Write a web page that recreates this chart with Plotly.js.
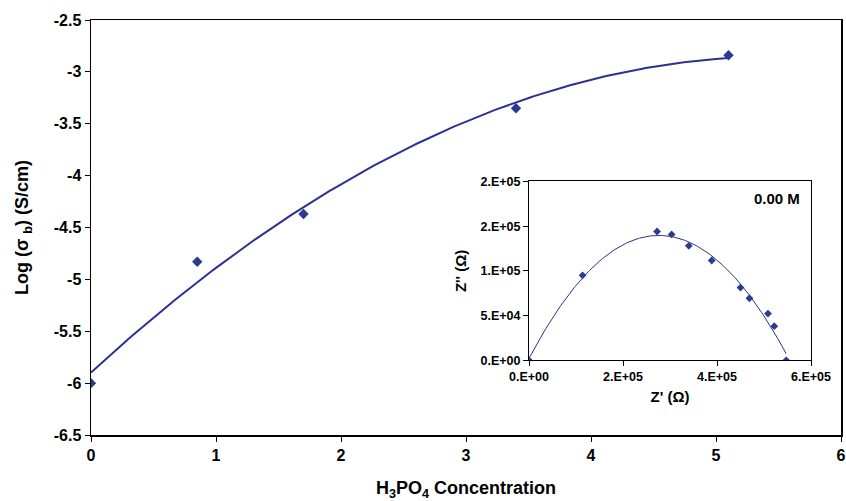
<!DOCTYPE html>
<html>
<head>
<meta charset="utf-8">
<script src="https://cdn.plot.ly/plotly-3.0.1.min.js"></script>
<style>html,body{margin:0;padding:0;background:#fff;}#chart{width:846px;height:501px;}</style>
</head>
<body>
<div id="chart"></div>
<script>
// Main chart data
const concentration = [0, 0.85, 1.7, 3.4, 5.1];
const logSigma = [-6.0, -4.83, -4.37, -3.35, -2.84];

// Inset (Nyquist plot, 0.00 M) data
const zReal = [0, 1.14e5, 2.725e5, 3.035e5, 3.40e5, 3.887e5, 4.50e5, 4.69e5, 5.085e5, 5.218e5, 5.472e5];
const zImag = [0, 9.5e4, 1.44e5, 1.407e5, 1.28e5, 1.116e5, 8.13e4, 6.94e4, 5.22e4, 3.81e4, 0];

// Tick labels
const mainYTicks = [-6.5, -6, -5.5, -5, -4.5, -4, -3.5, -3, -2.5];
const mainYText = ["-6.5", "-6", "-5.5", "-5", "-4.5", "-4", "-3.5", "-3", "-2.5"];
const insetXTicks = [0, 2e5, 4e5, 6e5];
const insetXText = ["0.E+00", "2.E+05", "4.E+05", "6.E+05"];
const insetYTicks = [0, 5e4, 1e5, 1.5e5, 2e5];
const insetYText = ["0.E+00", "5.E+04", "1.E+05", "2.E+05", "2.E+05"];

// Polynomial (order 2) least-squares trendline, like the spreadsheet trendline
function quadFit(xs, ys) {
  const S = [0,0,0,0,0], T = [0,0,0];
  for (let i = 0; i < xs.length; i++) {
    let p = 1;
    for (let k = 0; k < 5; k++) { S[k] += p; if (k < 3) T[k] += p * ys[i]; p *= xs[i]; }
  }
  const A = [[S[0],S[1],S[2],T[0]],[S[1],S[2],S[3],T[1]],[S[2],S[3],S[4],T[2]]];
  for (let c = 0; c < 3; c++) {
    let piv = c;
    for (let r = c+1; r < 3; r++) if (Math.abs(A[r][c]) > Math.abs(A[piv][c])) piv = r;
    [A[c], A[piv]] = [A[piv], A[c]];
    for (let r = 0; r < 3; r++) if (r !== c) {
      const f = A[r][c] / A[c][c];
      for (let k = c; k < 4; k++) A[r][k] -= f * A[c][k];
    }
  }
  return [A[0][3]/A[0][0], A[1][3]/A[1][1], A[2][3]/A[2][2]];
}
function trend(xs, ys, n) {
  const c = quadFit(xs, ys);
  const x0 = Math.min(...xs), x1 = Math.max(...xs);
  const tx = [], ty = [];
  for (let i = 0; i <= n; i++) {
    const x = x0 + (x1 - x0) * i / n;
    tx.push(x); ty.push(c[0] + c[1]*x + c[2]*x*x);
  }
  return {x: tx, y: ty};
}

const blue = '#2b3a92';
const lineBlue = '#2e3192';
const mainTrend = trend(concentration, logSigma, 200);
const insetTrend = trend(zReal, zImag, 200);
const F = 'Liberation Sans, Arial, sans-serif';

const data = [
  {x: mainTrend.x, y: mainTrend.y, mode: 'lines', line: {color: lineBlue, width: 2}, hoverinfo: 'skip', xaxis: 'x', yaxis: 'y'},
  {x: concentration, y: logSigma, mode: 'markers', marker: {symbol: 'diamond', size: 8, color: blue}, xaxis: 'x', yaxis: 'y'},
  {x: insetTrend.x, y: insetTrend.y, mode: 'lines', line: {color: lineBlue, width: 1}, hoverinfo: 'skip', xaxis: 'x2', yaxis: 'y2'},
  {x: zReal, y: zImag, mode: 'markers', marker: {symbol: 'diamond', size: 6, color: blue}, xaxis: 'x2', yaxis: 'y2'}
];

const layout = {
  width: 846, height: 501,
  margin: {l: 91, r: 5, t: 20, b: 66},
  paper_bgcolor: '#fff', plot_bgcolor: '#fff',
  showlegend: false,
  font: {family: F, color: '#000'},
  xaxis: {
    range: [0, 6], dtick: 1, tick0: 0, showgrid: false, zeroline: false,
    showline: true, linecolor: '#000', linewidth: 1.5, mirror: true,
    ticks: 'outside', ticklen: 5, tickcolor: '#000',
    tickfont: {family: F, size: 16, weight: 'bold'},
    title: {text: 'H<sub>3</sub>PO<sub>4</sub> Concentration', font: {family: F, size: 18, weight: 'bold'}, standoff: 24}
  },
  yaxis: {
    range: [-6.5, -2.5], tickvals: mainYTicks, ticktext: mainYText, showgrid: false, zeroline: false,
    showline: true, linecolor: '#000', linewidth: 1.5, mirror: true,
    ticks: 'outside', ticklen: 5, tickcolor: '#000',
    tickfont: {family: F, size: 16, weight: 'bold'},
    title: {text: 'Log (σ <sub>b</sub>) (S/cm)', font: {family: F, size: 18, weight: 'bold'}, standoff: 20}
  },
  xaxis2: {
    domain: [0.584, 0.96], anchor: 'y2', range: [0, 6e5],
    tickvals: insetXTicks, ticktext: insetXText, showgrid: false, zeroline: false,
    showline: true, linecolor: '#000', linewidth: 1, mirror: true,
    ticks: 'outside', ticklen: 5, tickcolor: '#000',
    tickfont: {family: F, size: 12.5, weight: 'bold'},
    title: {text: "Z' (Ω)", font: {family: F, size: 15, weight: 'bold'}, standoff: 8}
  },
  yaxis2: {
    domain: [0.18, 0.611], anchor: 'x2', range: [0, 2e5],
    tickvals: insetYTicks, ticktext: insetYText, showgrid: false, zeroline: false,
    showline: true, linecolor: '#000', linewidth: 1, mirror: true,
    ticks: 'outside', ticklen: 5, tickcolor: '#000',
    tickfont: {family: F, size: 12.5, weight: 'bold'},
    title: {text: "Z'' (Ω)", font: {family: F, size: 15, weight: 'bold'}, standoff: 10}
  },
  annotations: [
    {text: '0.00 M', xref: 'x2', yref: 'y2', x: 5.8e5, y: 1.81e5, xanchor: 'right', yanchor: 'middle', showarrow: false,
     font: {family: F, size: 15, weight: 'bold', color: '#000'}}
  ]
};

Plotly.newPlot('chart', data, layout, {displayModeBar: false, staticPlot: true});
</script>
</body>
</html>
